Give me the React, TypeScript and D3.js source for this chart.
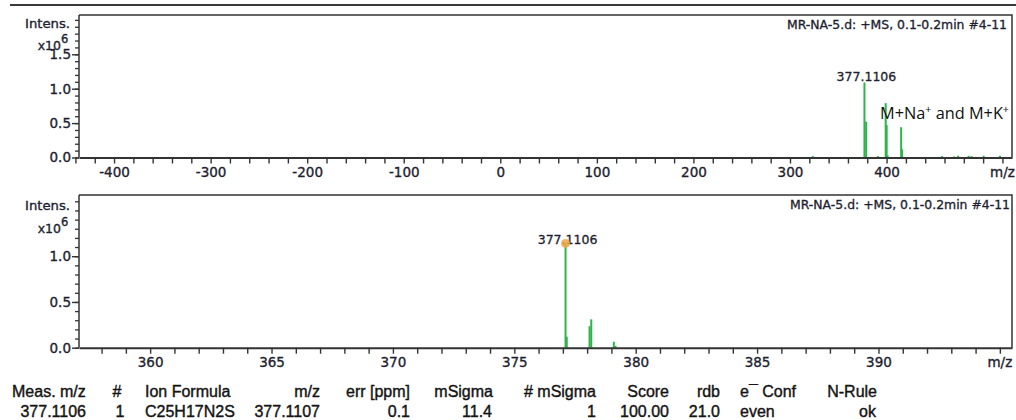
import React, { useEffect, useRef } from 'react';
import * as d3 from 'd3';

// full scan, intensities in units of 10^6
const scanMz = [323.6, 377.1, 378.9, 391.0, 399.1, 400.1, 401.1, 415.1, 416.1, 457.5, 470.0, 474.0, 485.0, 488.0, 500.5, 517.5];
const scanIntensity = [0.02, 1.09, 0.52, 0.02, 0.79, 0.47, 0.03, 0.44, 0.12, 0.02, 0.015, 0.025, 0.025, 0.02, 0.025, 0.025];

// zoom on the isotope pattern of the [M+H]+ ion
const zoomMz = [377.11, 377.16, 378.1, 378.17, 379.1, 379.17];
const zoomIntensity = [1.14, 0.12, 0.235, 0.31, 0.065, 0.02];

const scanTitle = 'MR-NA-5.d: +MS, 0.1-0.2min #4-11';
const peakLabel = '377.1106';

const scanXLabels = [-400, -300, -200, -100, 0, 100, 200, 300, 400];
const zoomXLabels = [360, 365, 370, 375, 380, 385, 390];
const scanYLabels = [0, 0.5, 1.0, 1.5];
const zoomYLabels = [0, 0.5, 1.0];

const tableHeader = ['Meas. m/z', '#', 'Ion Formula', 'm/z', 'err [ppm]', 'mSigma', '# mSigma', 'Score', 'rdb', 'e\u00AF Conf', 'N-Rule'];
const tableValues = ['377.1106', '1', 'C25H17N2S', '377.1107', '0.1', '11.4', '1', '100.00', '21.0', 'even', 'ok'];

// column placement of the result table
const tableCols = [
  { hx: 12, ha: 'start', vx: 86, va: 'end' },
  { hx: 117, ha: 'middle', vx: 120, va: 'middle' },
  { hx: 145, ha: 'start', vx: 145, va: 'start' },
  { hx: 320, ha: 'end', vx: 320, va: 'end' },
  { hx: 410, ha: 'end', vx: 410, va: 'end' },
  { hx: 493, ha: 'end', vx: 492, va: 'end' },
  { hx: 596, ha: 'end', vx: 596, va: 'end' },
  { hx: 669, ha: 'end', vx: 669, va: 'end' },
  { hx: 720, ha: 'end', vx: 720, va: 'end' },
  { hx: 740, ha: 'start', vx: 740, va: 'start' },
  { hx: 877, ha: 'end', vx: 876, va: 'end' },
];

const GREEN = '#2fb34b';
const INK = '#1e1e30';
const AXIS = '#333';
const PLOT_FONT = 'DejaVu Sans, sans-serif';

// slightly heavier text, like the blurred original
const ink = (sel, w = 0.35) =>
  sel.attr('fill', INK).attr('stroke', INK).attr('stroke-width', w);

const drawPanel = (svg, p) => {
  const left = 79;
  const right = 1012;
  const x = d3.scaleLinear().domain(p.xDomain).range([left, right]);
  const y = d3.scaleLinear().domain([0, p.yMax]).range([p.bottom, p.top]);
  const g = svg.append('g');

  // frame (top + right)
  g.append('path')
    .attr('d', `M${left},${p.top}H${right}V${p.bottom}`)
    .attr('fill', 'none')
    .attr('stroke', AXIS)
    .attr('stroke-width', 1.5);

  // peaks
  g.selectAll('line.peak')
    .data(d3.zip(p.mz, p.intensity))
    .join('line')
    .attr('class', 'peak')
    .attr('x1', d => x(d[0]))
    .attr('x2', d => x(d[0]))
    .attr('y1', y(0))
    .attr('y2', d => y(d[1]))
    .attr('stroke', GREEN)
    .attr('stroke-width', 2);

  // x axis
  const xAxis = d3.axisBottom(x)
    .tickValues(p.xTicks)
    .tickSize(6)
    .tickSizeOuter(0)
    .tickPadding(p.xPad)
    .tickFormat(d => (p.xLabels.includes(d) ? String(d) : ''));
  const xg = g.append('g').attr('transform', `translate(0,${p.bottom})`).call(xAxis);
  xg.select('.domain').attr('stroke', AXIS).attr('stroke-width', 2);
  xg.selectAll('.tick line').attr('stroke', AXIS).attr('stroke-width', 1.4);
  ink(xg.selectAll('text').attr('font-family', PLOT_FONT).attr('font-size', 13.5));

  ink(g.append('text')
    .attr('x', x(p.mzAt))
    .attr('y', p.bottom + 6 + p.xPad)
    .attr('dy', '0.71em')
    .attr('text-anchor', 'middle')
    .attr('font-family', PLOT_FONT)
    .attr('font-size', 13.5)
    .text('m/z'));

  // y axis, minor then major ticks
  const yMinor = d3.axisLeft(y).tickValues(p.yMinor).tickSize(4).tickSizeOuter(0).tickFormat(() => '');
  const ym = g.append('g').attr('transform', `translate(${left},0)`).call(yMinor);
  ym.select('.domain').remove();
  ym.selectAll('.tick line').attr('stroke', AXIS).attr('stroke-width', 1.3);

  const yMajor = d3.axisLeft(y).tickValues(p.yLabels).tickSize(7).tickSizeOuter(0).tickPadding(1)
    .tickFormat(d3.format('.1f'));
  const yg = g.append('g').attr('transform', `translate(${left},0)`).call(yMajor);
  yg.select('.domain').attr('d', `M0,${p.bottom}V${p.top}`).attr('stroke', AXIS).attr('stroke-width', 1.5);
  yg.selectAll('.tick line').attr('stroke', AXIS).attr('stroke-width', 1.4);
  ink(yg.selectAll('text').attr('font-family', PLOT_FONT).attr('font-size', 13.5));

  // "Intens. x10^6"
  ink(g.append('text')
    .attr('x', 25).attr('y', p.intensY)
    .attr('font-family', PLOT_FONT).attr('font-size', 13)
    .attr('textLength', 45).attr('lengthAdjust', 'spacingAndGlyphs')
    .text('Intens.'));
  ink(g.append('text')
    .attr('x', 61).attr('y', p.intensY + p.expDy)
    .attr('text-anchor', 'end')
    .attr('font-family', PLOT_FONT).attr('font-size', 12.5)
    .text('x10'));
  ink(g.append('text')
    .attr('x', 61).attr('y', p.intensY + p.expDy - 7)
    .attr('font-family', PLOT_FONT).attr('font-size', 11.5)
    .text('6'));

  // acquisition title
  ink(g.append('text')
    .attr('x', p.titleRight).attr('y', p.top + 14)
    .attr('text-anchor', 'end')
    .attr('font-family', PLOT_FONT).attr('font-size', 11.5)
    .attr('textLength', 220).attr('lengthAdjust', 'spacingAndGlyphs')
    .text(scanTitle), 0.3);

  return { x, y, g };
};

const App = () => {
  const svgRef = useRef(null);

  useEffect(() => {
    const svg = d3.select(svgRef.current);
    svg.selectAll('*').remove();

    svg.append('line')
      .attr('x1', 10).attr('x2', 1016).attr('y1', 5).attr('y2', 5)
      .attr('stroke', '#3a3a3a').attr('stroke-width', 2);

    // top: full scan
    const top = drawPanel(svg, {
      top: 15,
      bottom: 157.5,
      xDomain: [-436.3, 529.9],
      yMax: 2.071,
      xTicks: d3.range(-22, 27).map(i => i * 20),
      xLabels: scanXLabels,
      mzAt: 520,
      xPad: 4,
      yMinor: d3.range(0, 21).map(i => i / 10),
      yLabels: scanYLabels,
      mz: scanMz,
      intensity: scanIntensity,
      intensY: 28,
      expDy: 22,
      titleRight: 1007,
    });

    ink(top.g.append('text')
      .attr('x', top.x(377.1) + 2).attr('y', top.y(1.09) - 2)
      .attr('text-anchor', 'middle')
      .attr('font-family', PLOT_FONT).attr('font-size', 12.5)
      .text(peakLabel), 0.3);

    const ann = top.g.append('text')
      .attr('x', 880).attr('y', 119)
      .attr('font-family', 'Open Sans, sans-serif').attr('font-size', 16).attr('fill', '#111')
      .attr('textLength', 129).attr('lengthAdjust', 'spacingAndGlyphs');
    ann.append('tspan').text('M+Na');
    ann.append('tspan').attr('font-size', 10.5).attr('dy', -6).text('+');
    ann.append('tspan').attr('dy', 6).text(' and M+K');
    ann.append('tspan').attr('font-size', 10.5).attr('dy', -6).text('+');

    // bottom: isotope zoom
    const bot = drawPanel(svg, {
      top: 195,
      bottom: 347.7,
      xDomain: [357.07, 395.5],
      yMax: 1.669,
      xTicks: d3.range(358, 396),
      xLabels: zoomXLabels,
      mzAt: 395,
      xPad: 3.5,
      yMinor: d3.range(0, 17).map(i => i / 10),
      yLabels: zoomYLabels,
      mz: zoomMz,
      intensity: zoomIntensity,
      intensY: 210,
      expDy: 23,
      titleRight: 1010,
    });

    ink(bot.g.append('text')
      .attr('x', bot.x(377.11) + 2).attr('y', bot.y(1.14) + 1)
      .attr('text-anchor', 'middle')
      .attr('font-family', PLOT_FONT).attr('font-size', 12.5)
      .text(peakLabel), 0.3);

    bot.g.append('circle')
      .attr('cx', bot.x(377.11)).attr('cy', bot.y(1.14))
      .attr('r', 4.5)
      .attr('fill', '#f0a640').attr('fill-opacity', 0.85);

    // result table
    const tbl = svg.append('g')
      .attr('font-family', 'Liberation Sans, Arial, sans-serif')
      .attr('font-size', 16)
      .attr('fill', '#141414')
      .attr('stroke', '#141414')
      .attr('stroke-width', 0.4);

    tbl.selectAll('text.head')
      .data(tableHeader)
      .join('text')
      .attr('class', 'head')
      .attr('x', (_, i) => tableCols[i].hx)
      .attr('y', 397)
      .attr('text-anchor', (_, i) => tableCols[i].ha)
      .text(d => d);

    tbl.selectAll('text.val')
      .data(tableValues)
      .join('text')
      .attr('class', 'val')
      .attr('x', (_, i) => tableCols[i].vx)
      .attr('y', 416.5)
      .attr('text-anchor', (_, i) => tableCols[i].va)
      .text(d => d);
  }, []);

  return (
    <svg
      ref={svgRef}
      width={1016}
      height={420}
      style={{ position: 'absolute', left: 0, top: 0, background: '#fff' }}
    />
  );
};

export default App;
